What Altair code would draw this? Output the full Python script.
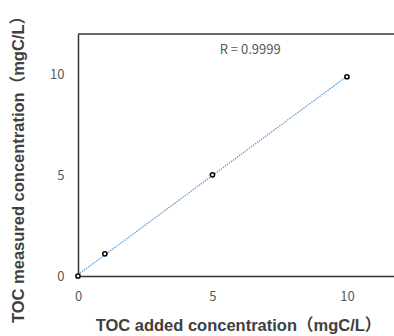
import altair as alt
import pandas as pd

added = [0, 1, 5, 10]
measured = [0, 1.1, 5.02, 9.88]
r_label = ["R = 0.9999"]
r_x = [6.4]
r_y = [11.2]

df = pd.DataFrame({"added": added, "measured": measured})
df_r = pd.DataFrame({"label": r_label, "x": r_x, "y": r_y})

FONT = "Noto Sans CJK JP"
TFONT = "Liberation Sans, Noto Sans CJK JP"
xscale = alt.Scale(domain=[0, 11.75], nice=False, zero=False)
yscale = alt.Scale(domain=[0, 12], nice=False)

xaxis = alt.Axis(values=[0, 5, 10], grid=False, ticks=False, labelPadding=14,
                 labelFlush=False,
                 labelFontSize=13, labelColor="#595959", labelFont=FONT,
                 domainColor="#333333", domainWidth=1.5,
                 title="TOC added concentration（mgC/L）", titleFont=TFONT,
                 titleFontSize=16.5, titleFontWeight="bold", titleColor="#404040",
                 titleX=160, titleY=49, titleBaseline="middle", titleAnchor="middle")
yaxis = alt.Axis(values=[0, 5, 10], grid=False, ticks=False, labelPadding=14,
                 labelFlush=False,
                 labelFontSize=13, labelColor="#595959", labelFont=FONT,
                 domainColor="#333333", domainWidth=1.5,
                 title="TOC measured concentration（mgC/L）", titleFont=TFONT,
                 titleFontSize=16.5, titleFontWeight="bold", titleColor="#404040",
                 titleX=-60, titleY=131, titleBaseline="middle", titleAngle=270,
                 titleAlign="center")

base = alt.Chart(df)

line = base.transform_regression("added", "measured").mark_line(
    color="#5B9BD5", strokeDash=[1.5, 1], strokeWidth=1.2
).encode(
    x=alt.X("added:Q", scale=xscale, axis=xaxis),
    y=alt.Y("measured:Q", scale=yscale, axis=yaxis),
)

pts = base.mark_point(shape="circle", size=18, filled=False, color="#000000",
                      strokeWidth=1.5, fill="white", fillOpacity=1).encode(
    x=alt.X("added:Q", scale=xscale),
    y=alt.Y("measured:Q", scale=yscale),
)

top_border = alt.Chart(df_r).mark_rule(color="#333333", strokeWidth=1.5).encode(
    x=alt.value(0), x2=alt.value(316), y=alt.value(0)
)

rtext = alt.Chart(df_r).mark_text(font=FONT, fontSize=13, color="#595959").encode(
    x=alt.X("x:Q", scale=xscale),
    y=alt.Y("y:Q", scale=yscale),
    text="label:N",
)

chart = alt.layer(line, pts, top_border, rtext).properties(
    width=316, height=242,
    autosize=alt.AutoSizeParams(type="none"),
    padding={"left": 78, "top": 34, "right": 0, "bottom": 60},
    background="white",
).configure_view(stroke=None)

chart.save("out.html", embed_options={"renderer": "svg", "actions": False})
